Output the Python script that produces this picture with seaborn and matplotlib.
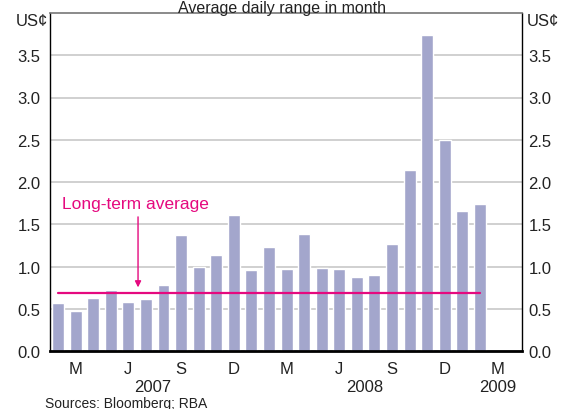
import numpy as np
import pandas as pd
import matplotlib
matplotlib.use("Agg")
import matplotlib.pyplot as plt
import seaborn as sns

# --- data: monthly average daily range, Feb 2007 - Feb 2009 (US cents) ---
months = ['Feb-07', 'Mar-07', 'Apr-07', 'May-07', 'Jun-07', 'Jul-07', 'Aug-07',
          'Sep-07', 'Oct-07', 'Nov-07', 'Dec-07', 'Jan-08', 'Feb-08', 'Mar-08',
          'Apr-08', 'May-08', 'Jun-08', 'Jul-08', 'Aug-08', 'Sep-08', 'Oct-08',
          'Nov-08', 'Dec-08', 'Jan-09', 'Feb-09']
daily_range = [0.57, 0.47, 0.63, 0.72, 0.58, 0.62, 0.78, 1.37, 1.00, 1.14,
               1.61, 0.96, 1.23, 0.97, 1.38, 0.98, 0.97, 0.88, 0.90, 1.27,
               2.14, 3.74, 2.50, 1.66, 1.74]
long_term_avg = 0.69

quarter_labels = ['M', 'J', 'S', 'D', 'M', 'J', 'S', 'D', 'M']
year_labels = ['2007', '2008', '2009']
year_slots = [5.4, 17.45, 25]

df = pd.DataFrame({'slot': np.arange(len(months)), 'month': months, 'value': daily_range})

sns.set_style('white')
plt.rcParams['font.family'] = ['Liberation Sans', 'DejaVu Sans']

fig = plt.figure(figsize=(5.65, 4.10), dpi=100)
ax = fig.add_axes([50 / 565, 58 / 410, 472 / 565, 338 / 410])

sns.barplot(data=df, x='slot', y='value', native_scale=True, width=0.68,
            color='#A3A6CC', saturation=1, ax=ax, zorder=2)

ax.set_xlim(-0.46, 26.4)
ax.set_ylim(0, 4)
ax.set_xlabel('')
ax.set_ylabel('')

# grid
yt = np.arange(0, 4.0, 0.5)
ax.set_yticks(yt)
ax.set_yticklabels([f'{v:.1f}' for v in yt], fontsize=12)
ax.grid(axis='y', color='#C4C4C4', linewidth=1.1, zorder=0)
ax.set_axisbelow(True)
ax.tick_params(axis='y', length=0, pad=7, colors='#222222')

# quarter boundary ticks and labels
ax.set_xticks(np.arange(2.5, 25, 3))
ax.set_xticklabels([])
ax.set_xticks(np.arange(1, 26, 3), minor=True)
ax.set_xticklabels(quarter_labels, minor=True, fontsize=12)
ax.tick_params(axis='x', which='major', direction='in', length=4, width=1, color='#555555')
ax.tick_params(axis='x', which='minor', length=0, pad=7, colors='#222222')

for s in ['left', 'right']:
    ax.spines[s].set_color('black')
    ax.spines[s].set_linewidth(1)
ax.spines['top'].set_color('#777777')
ax.spines['top'].set_linewidth(1.2)
ax.spines['bottom'].set_color('black')
ax.spines['bottom'].set_linewidth(2)

ax2 = ax.twinx()
ax2.set_ylim(0, 4)
ax2.set_yticks(yt)
ax2.set_yticklabels([f'{v:.1f}' for v in yt], fontsize=12)
ax2.tick_params(axis='y', length=0, pad=4.5, colors='#222222')
for s in ax2.spines.values():
    s.set_visible(False)

# long-term average line
pink = '#E5097F'
ax.plot([0, 24], [long_term_avg, long_term_avg], color=pink, linewidth=1.6, zorder=3)
ax.annotate('', xy=(4.55, long_term_avg + 0.03), xytext=(4.55, 1.62),
            arrowprops=dict(arrowstyle='-|>', color=pink, lw=1, mutation_scale=9), zorder=4)
ax.text(0.2, 1.74, 'Long-term average', color=pink, fontsize=12.5, va='center', ha='left')

# unit labels
fig.text(48 / 565, 1 - 22 / 410, 'US¢', fontsize=12, ha='right', va='center', color='#222222')
fig.text(527 / 565, 1 - 22 / 410, 'US¢', fontsize=12, ha='left', va='center', color='#222222')

# years
for yl, xs in zip(year_labels, year_slots):
    ax.text(xs, -0.415, yl, fontsize=12, ha='center', va='center', color='#222222')

fig.text(0.5, 1 - 0.5 / 410, 'Average daily range in month', fontsize=11.5, ha='center', va='top',
         color='#222222')
fig.text(45 / 565, 1 - 404 / 410, 'Sources: Bloomberg; RBA', fontsize=10, ha='left', va='center',
         color='#222222')

fig.savefig('out.png', dpi=100)
